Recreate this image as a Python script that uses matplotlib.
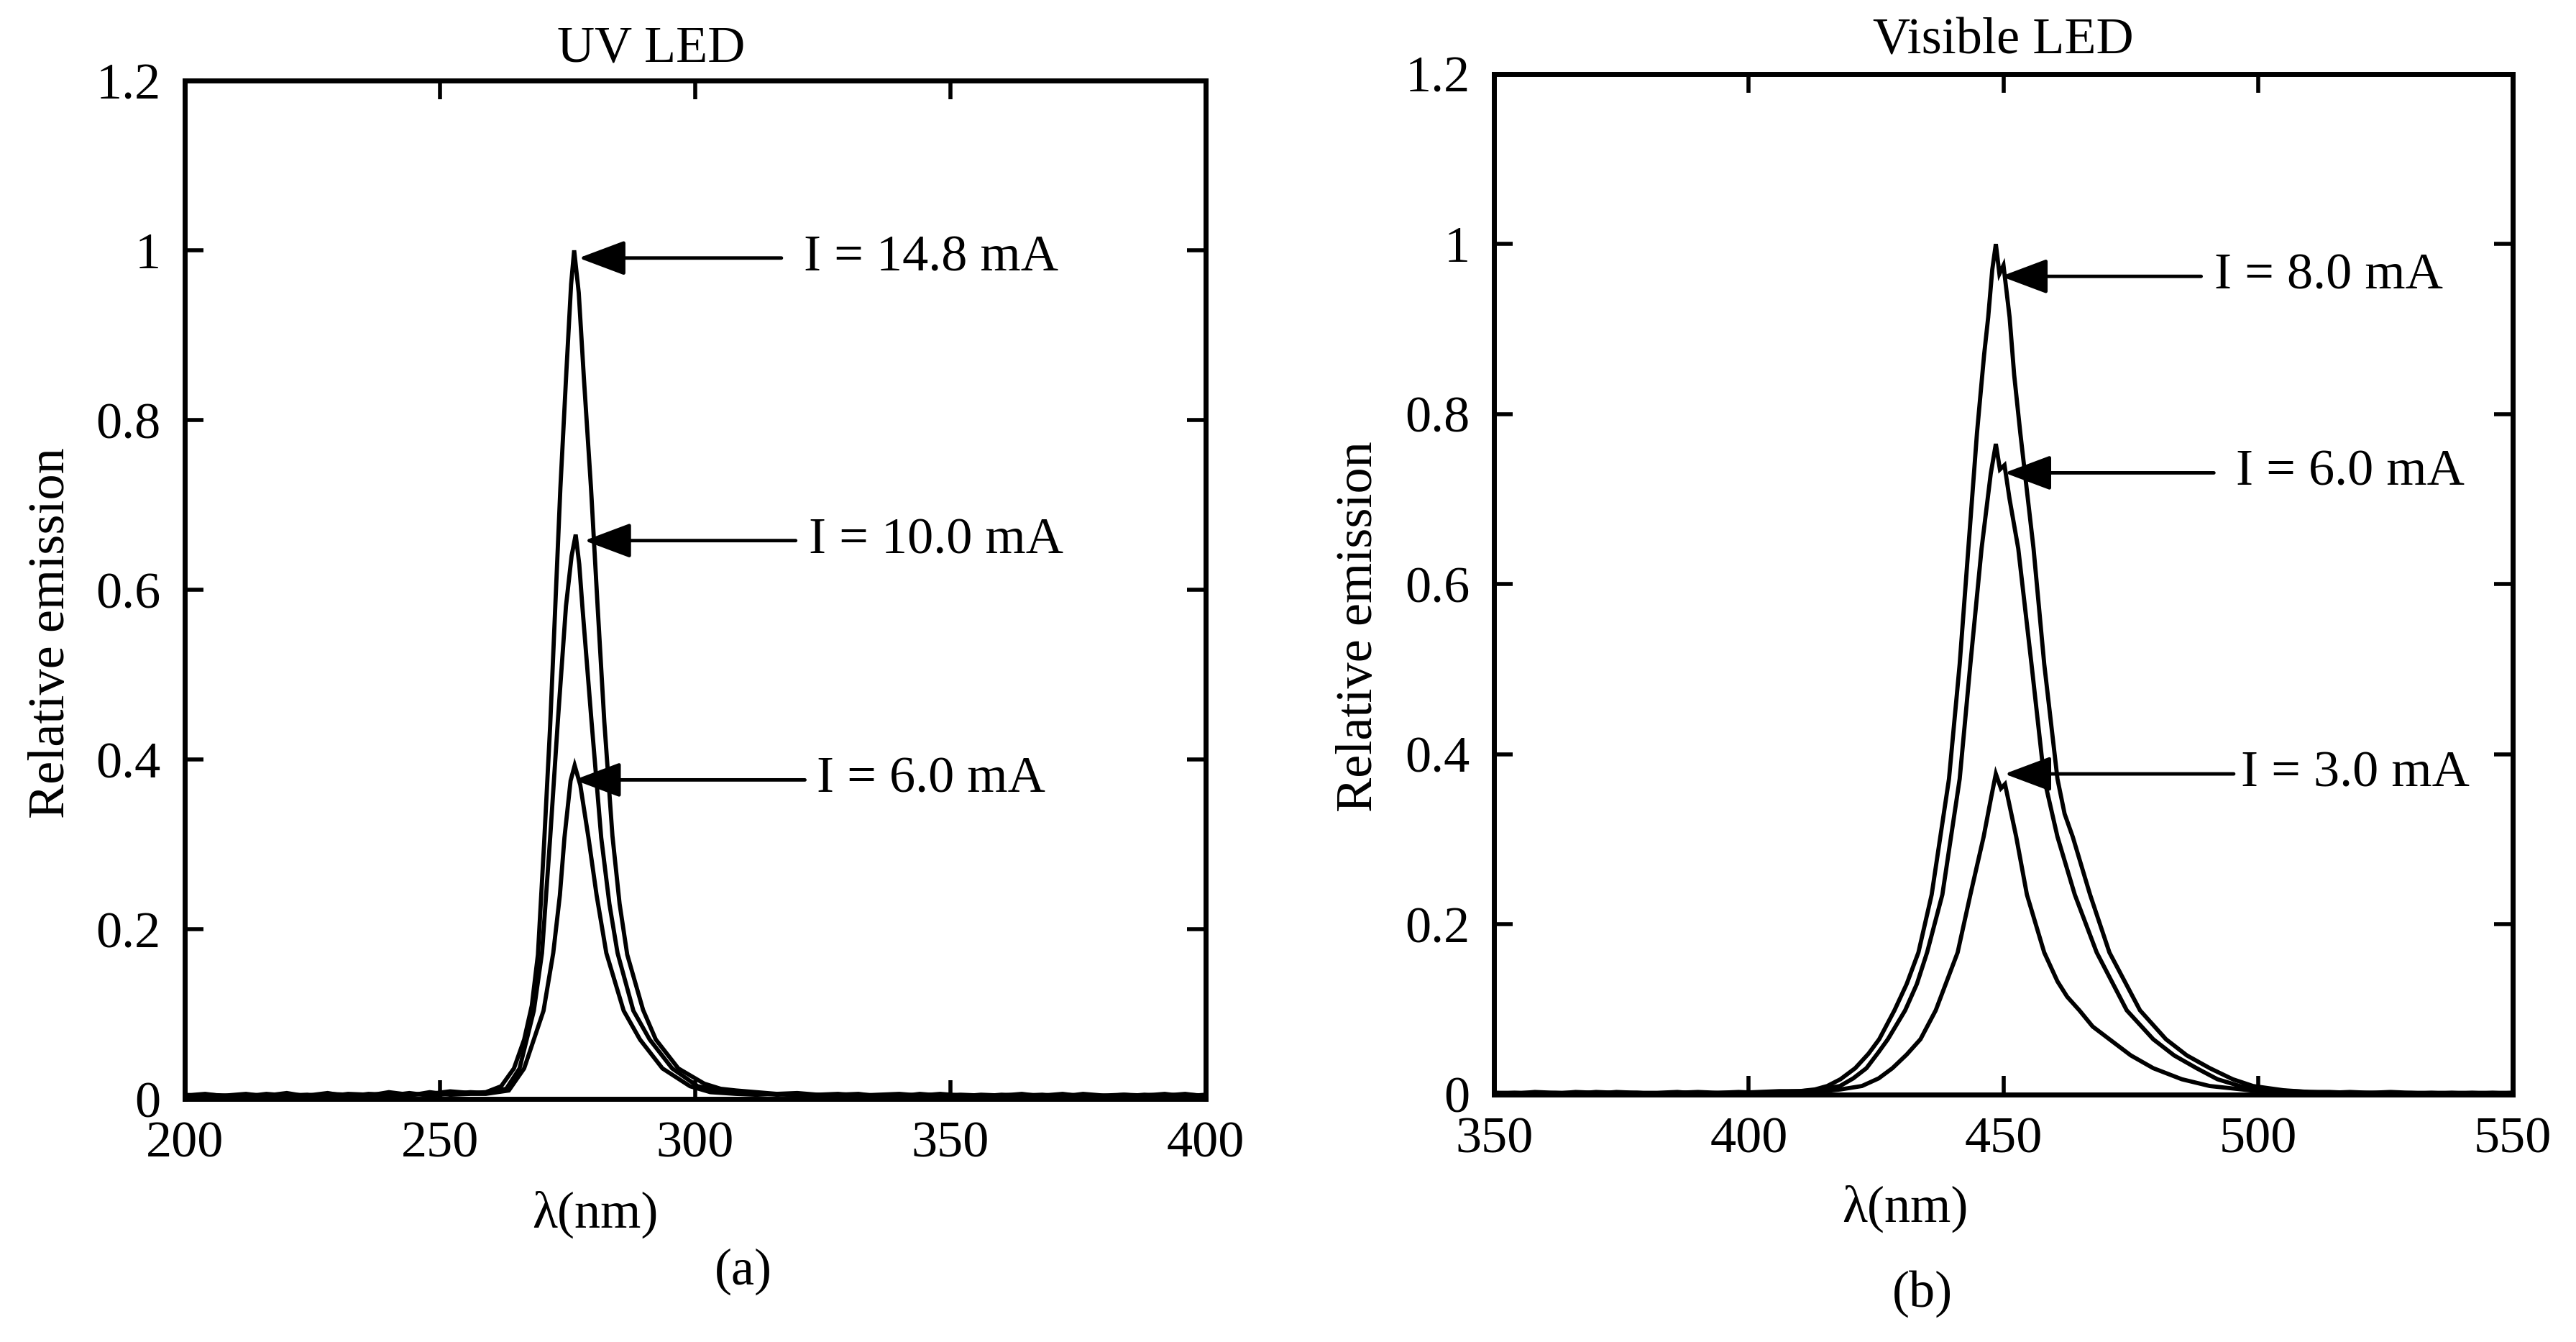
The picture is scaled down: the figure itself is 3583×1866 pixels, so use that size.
import numpy as np
import matplotlib
matplotlib.use('Agg')
import matplotlib.pyplot as plt

plt.rcParams['font.family'] = ['Liberation Serif', 'DejaVu Serif']

#%% data
# UV LED (a): baseline grids shared by the three curves
uv_base_left = [200, 204, 208, 212, 216, 220, 224, 228, 232, 236, 240, 244, 248, 252, 256]
uv_base_right = [308, 312, 316, 320, 324, 328, 332, 336, 340, 344, 348, 352,
                 356, 360, 364, 368, 372, 376, 380, 384, 388, 392, 396, 400]

uv148_left = [0.004, 0.006, 0.003, 0.005, 0.004, 0.007, 0.003, 0.006, 0.005, 0.004, 0.008, 0.005, 0.006, 0.009, 0.007]
uv148_wl = [259, 262, 264.5, 266.5, 268, 269.2, 270.4, 271.6, 272.6, 273.6, 274.8, 275.7, 276.3,
            277.2, 278.2, 279.6, 280.9, 282.2, 283.8, 285.2, 286.7, 289.8, 292.3, 296.7, 301.8, 305]
uv148_em = [0.008, 0.015, 0.036, 0.07, 0.11, 0.17, 0.30, 0.44, 0.58, 0.72, 0.86, 0.96, 1.0,
            0.95, 0.85, 0.72, 0.58, 0.445, 0.31, 0.23, 0.17, 0.105, 0.07, 0.036, 0.018, 0.012]
uv148_right = [0.010, 0.008, 0.006, 0.007, 0.005, 0.006, 0.004, 0.005, 0.006, 0.004, 0.005, 0.003,
               0.005, 0.004, 0.006, 0.003, 0.005, 0.004, 0.003, 0.005, 0.004, 0.006, 0.003, 0.005]

uv100_left = [0.003, 0.005, 0.004, 0.003, 0.006, 0.004, 0.005, 0.003, 0.006, 0.005, 0.004, 0.007, 0.004, 0.006, 0.008]
uv100_wl = [259, 263, 265.6, 268.4, 270.0, 271.6, 273.1, 274.7, 275.8, 276.6, 277.3, 277.9,
            279.7, 281.6, 283.2, 284.8, 287.9, 291.1, 295.5, 300.5, 305]
uv100_em = [0.007, 0.012, 0.036, 0.104, 0.172, 0.308, 0.445, 0.581, 0.64, 0.665, 0.63, 0.581,
            0.445, 0.308, 0.23, 0.172, 0.104, 0.07, 0.036, 0.015, 0.010]
uv100_right = [0.008, 0.007, 0.005, 0.006, 0.004, 0.005, 0.006, 0.003, 0.005, 0.004, 0.006, 0.004,
               0.003, 0.005, 0.004, 0.005, 0.003, 0.006, 0.004, 0.003, 0.005, 0.004, 0.005, 0.004]

uv60_left = [0.005, 0.003, 0.004, 0.006, 0.003, 0.005, 0.004, 0.007, 0.003, 0.006, 0.005, 0.004, 0.008, 0.005, 0.006]
uv60_wl = [259, 263.5, 266.5, 268.4, 270.3, 272.2, 273.5, 274.4, 275.6, 276.4, 277.5, 279.1,
           280.7, 282.6, 286.0, 289.2, 293.6, 299, 303]
uv60_em = [0.006, 0.010, 0.036, 0.07, 0.104, 0.172, 0.24, 0.308, 0.375, 0.393, 0.37, 0.308,
           0.24, 0.172, 0.104, 0.07, 0.036, 0.015, 0.008]
uv60_right = [0.006, 0.005, 0.006, 0.004, 0.005, 0.003, 0.005, 0.004, 0.003, 0.006, 0.004, 0.005,
              0.004, 0.003, 0.005, 0.004, 0.006, 0.003, 0.004, 0.005, 0.003, 0.004, 0.006, 0.003]

# Visible LED (b)
vis_base_left = [350, 354, 358, 362, 366, 370, 374, 378, 382, 386, 390, 394, 398, 402, 406, 410]
vis_base_right = [514, 518, 522, 526, 530, 534, 538, 542, 546, 550]

vis80_left = [0.002, 0.001, 0.003, 0.002, 0.002, 0.001, 0.003, 0.002, 0.001, 0.002, 0.003, 0.002, 0.002, 0.003, 0.004, 0.004]
vis80_wl = [413, 415.4, 418, 420.9, 423.5, 425.6, 428.6, 431, 433.3, 435.9, 439.3, 441.4, 443.1,
            444.8, 446.2, 447.0, 447.8, 448.5, 449.2, 450.0, 451.2, 452.1, 453.3, 455.9, 458.0,
            460.6, 462.0, 463.6, 467.0, 470.8, 476.8, 481.9, 486, 490.5, 495, 499.0, 505, 510]
vis80_em = [0.006, 0.010, 0.018, 0.031, 0.048, 0.065, 0.099, 0.13, 0.167, 0.235, 0.371, 0.506, 0.642,
            0.778, 0.87, 0.914, 0.97, 1.0, 0.965, 0.975, 0.914, 0.846, 0.778, 0.642, 0.506,
            0.371, 0.33, 0.303, 0.235, 0.167, 0.099, 0.065, 0.046, 0.031, 0.018, 0.010, 0.005, 0.003]
vis80_right = [0.003, 0.002, 0.002, 0.003, 0.002, 0.001, 0.002, 0.002, 0.001, 0.002]

vis60_left = [0.001, 0.002, 0.002, 0.001, 0.003, 0.002, 0.001, 0.002, 0.002, 0.003, 0.001, 0.002, 0.003, 0.002, 0.003, 0.004]
vis60_wl = [413, 417.9, 420.5, 423.1, 425.5, 427.3, 430.7, 433, 435.0, 438.0, 441.4, 443.5, 445.7,
            447.5, 448.5, 449.3, 450.2, 451.2, 452.9, 455.5, 458.0, 460.6, 464.0, 468.3, 474.2,
            479.4, 483.5, 487.9, 492, 496.4, 503, 510]
vis60_em = [0.005, 0.010, 0.019, 0.031, 0.050, 0.065, 0.099, 0.13, 0.167, 0.235, 0.371, 0.506, 0.642,
            0.73, 0.765, 0.735, 0.74, 0.70, 0.642, 0.506, 0.371, 0.303, 0.235, 0.167, 0.099,
            0.065, 0.046, 0.031, 0.018, 0.010, 0.005, 0.003]
vis60_right = [0.002, 0.003, 0.002, 0.001, 0.002, 0.002, 0.001, 0.002, 0.002, 0.001]

vis30_left = [0.002, 0.002, 0.001, 0.002, 0.001, 0.003, 0.002, 0.002, 0.001, 0.002, 0.002, 0.001, 0.002, 0.002, 0.002, 0.003]
vis30_wl = [413, 418, 422.2, 425.5, 428.2, 431, 433.7, 436.7, 441.0, 443.5, 446.1, 447.6, 448.5,
            449.5, 450.3, 452.5, 454.6, 458.0, 460.6, 462.5, 464.9, 467.5, 470.8, 475, 479.4,
            485, 490.5, 500, 510]
vis30_em = [0.003, 0.006, 0.010, 0.019, 0.031, 0.047, 0.065, 0.099, 0.167, 0.235, 0.303, 0.35, 0.377,
            0.36, 0.365, 0.303, 0.235, 0.167, 0.133, 0.115, 0.099, 0.08, 0.065, 0.046, 0.031,
            0.018, 0.010, 0.004, 0.002]
vis30_right = [0.002, 0.001, 0.002, 0.002, 0.001, 0.002, 0.002, 0.001, 0.002, 0.002]

# annotations: label, text x, text y, arrow tail x, arrow tip x
uv_labels = ['I = 14.8 mA', 'I = 10.0 mA', 'I = 6.0 mA']
uv_text_x = [321.3, 322.3, 323.8]
uv_text_y = [0.991, 0.658, 0.376]
uv_tail_x = [316.9, 319.7, 321.5]
uv_tip_x = [277.2, 278.3, 276.3]

vis_labels = ['I = 8.0 mA', 'I = 6.0 mA', 'I = 3.0 mA']
vis_text_x = [491.4, 495.6, 496.6]
vis_text_y = [0.962, 0.731, 0.377]
vis_tail_x = [488.8, 491.3, 495.2]
vis_tip_x = [449.5, 450.2, 450.2]

yticks = [0, 0.2, 0.4, 0.6, 0.8, 1.0, 1.2]
ytick_labels = ['0', '0.2', '0.4', '0.6', '0.8', '1', '1.2']

#%%
FS = 52
fig = plt.figure(figsize=(35.83, 18.66), dpi=100)
ax1 = fig.add_axes([0.0717, 0.1811, 0.3963, 0.7588])
ax2 = fig.add_axes([0.5800, 0.1844, 0.3955, 0.7605])


def curve(base_l, vals_l, wl, em, base_r, vals_r):
    x = np.concatenate([base_l, wl, base_r])
    y = np.concatenate([vals_l, em, vals_r])
    return x, y


def style(ax, xlim, xticks):
    ax.set_xlim(*xlim)
    ax.set_ylim(0, 1.2)
    ax.set_xticks(xticks)
    ax.set_yticks(yticks)
    ax.set_yticklabels(ytick_labels)
    ax.tick_params(direction='in', length=19, width=4, top=True, right=True,
                   labelsize=FS)
    ax.tick_params(axis='x', pad=22)
    ax.tick_params(axis='y', pad=24)
    for s in ax.spines.values():
        s.set_linewidth(5)


def arrows(ax, labels, tx, ty, tail, tip):
    for lab, x, y, t0, t1 in zip(labels, tx, ty, tail, tip):
        ax.annotate('', xy=(t1, y), xytext=(t0, y),
                    arrowprops=dict(arrowstyle='-|>,head_length=0.4,head_width=0.15',
                                    mutation_scale=100, lw=3.5, color='black',
                                    shrinkA=0, shrinkB=0))
        ax.text(x, y, lab, fontsize=FS, ha='left', va='center')


for args in [(uv_base_left, uv148_left, uv148_wl, uv148_em, uv_base_right, uv148_right),
             (uv_base_left, uv100_left, uv100_wl, uv100_em, uv_base_right, uv100_right),
             (uv_base_left, uv60_left, uv60_wl, uv60_em, uv_base_right, uv60_right)]:
    x, y = curve(*args)
    ax1.plot(x, y, color='black', lw=4.2, solid_joinstyle='miter')

for args in [(vis_base_left, vis80_left, vis80_wl, vis80_em, vis_base_right, vis80_right),
             (vis_base_left, vis60_left, vis60_wl, vis60_em, vis_base_right, vis60_right),
             (vis_base_left, vis30_left, vis30_wl, vis30_em, vis_base_right, vis30_right)]:
    x, y = curve(*args)
    ax2.plot(x, y, color='black', lw=4.2, solid_joinstyle='miter')

style(ax1, (200, 400), [200, 250, 300, 350, 400])
style(ax2, (350, 550), [350, 400, 450, 500, 550])

arrows(ax1, uv_labels, uv_text_x, uv_text_y, uv_tail_x, uv_tip_x)
arrows(ax2, vis_labels, vis_text_x, vis_text_y, vis_tail_x, vis_tip_x)

ax1.text(0.457, 1.019, 'UV LED', transform=ax1.transAxes, fontsize=FS,
         ha='center', va='baseline')
ax2.text(0.5, 1.02, 'Visible LED', transform=ax2.transAxes, fontsize=FS,
         ha='center', va='baseline')

fig.text(828 / 3583, 1 - 1689 / 1866, 'λ(nm)', fontsize=FS, ha='center', va='center')
fig.text(2650 / 3583, 1 - 1681 / 1866, 'λ(nm)', fontsize=FS, ha='center', va='center')
fig.text(1034 / 3583, 1 - 1768 / 1866, '(a)', fontsize=FS, ha='center', va='center')
fig.text(2674 / 3583, 1 - 1799 / 1866, '(b)', fontsize=FS, ha='center', va='center')
fig.text(72 / 3583, 1 - 880 / 1866, 'Relative emission', fontsize=FS,
         rotation=90, ha='center', va='center')
fig.text(1890 / 3583, 1 - 871 / 1866, 'Relative emission', fontsize=FS,
         rotation=90, ha='center', va='center')

fig.savefig('out.png', dpi=100)
